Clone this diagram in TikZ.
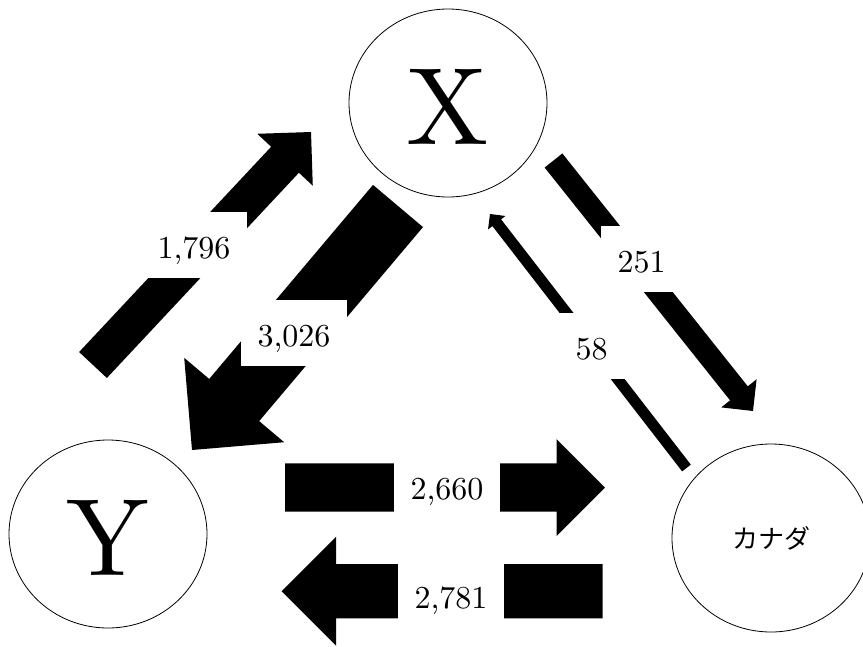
\documentclass[tikz,border=0pt]{standalone}
\usepackage{fontspec}
\setmainfont{lmroman10-regular.otf}
\newfontfamily\cjk{Noto Sans CJK JP}
\usetikzlibrary{calc,shapes.geometric}

\begin{document}
\begin{tikzpicture}[x=1pt,y=-1pt,
    country/.style={draw,ellipse,line width=0.8pt,minimum width=198pt,minimum height=188pt,inner sep=0pt},
    letter/.style={text height=83pt,text depth=0pt,font=\fontsize{110}{120}\selectfont},
    amount/.style={fill=white,inner xsep=17pt,inner ysep=0pt,text height=46.5pt,text depth=19.5pt,
        font=\fontsize{32}{38}\selectfont}]
    % block arrow: tail, tip, half shaft width
    \newcommand{\flow}[3]{%
        \fill ($(#1)!#3!90:(#2)$)
            -- ($(#2)!2*#3!(#1)!#3!90:(#2)$)
            -- ($(#2)!2*#3!(#1)!2*#3!90:(#2)$)
            -- (#2)
            -- ($(#2)!2*#3!(#1)!2*#3!270:(#2)$)
            -- ($(#2)!2*#3!(#1)!#3!270:(#2)$)
            -- ($(#1)!#3!270:(#2)$) -- cycle;}
    \useasboundingbox (0,0) rectangle (863,646);
    % Countries
    \node[country,letter] (X) at (448,103) {X};
    \node[country,letter] (Y) at (108,534) {Y};
    \node[country] (CA) at (771,538) {\cjk\fontsize{26}{30}\selectfont カナダ};
    % Ends of the flows
    \coordinate (YXs) at (93,365);      \coordinate (YXe) at (311,132);
    \coordinate (XYs) at (398,206);     \coordinate (XYe) at (192,450);
    \coordinate (XCs) at (553.5,160.5); \coordinate (XCe) at (753,411);
    \coordinate (CXs) at (686.5,468);   \coordinate (CXe) at (490,214);
    \coordinate (YCs) at (285,487.5);   \coordinate (YCe) at (605,487.5);
    \coordinate (CYs) at (602.7,591.2); \coordinate (CYe) at (281.7,591.2);
    % Flows
    \flow{YXs}{YXe}{19pt}
    \flow{XYs}{XYe}{32.7pt}
    \flow{XCs}{XCe}{11.3pt}
    \flow{CXs}{CXe}{5.5pt}
    \flow{YCs}{YCe}{24.2pt}
    \flow{CYs}{CYe}{27.2pt}
    % Amounts
    \node[amount] (yx) at (194,244.5) {1,796};
    \node[amount] (xy) at (294,333) {3,026};
    \node[amount] (xc) at (641.5,258.5) {251};
    \node[amount] (cx) at (591.5,345.5) {58};
    \node[amount] (yc) at (447,485.5) {2,660};
    \node[amount] (cy) at (451,594.8) {2,781};
\end{tikzpicture}
\end{document}
